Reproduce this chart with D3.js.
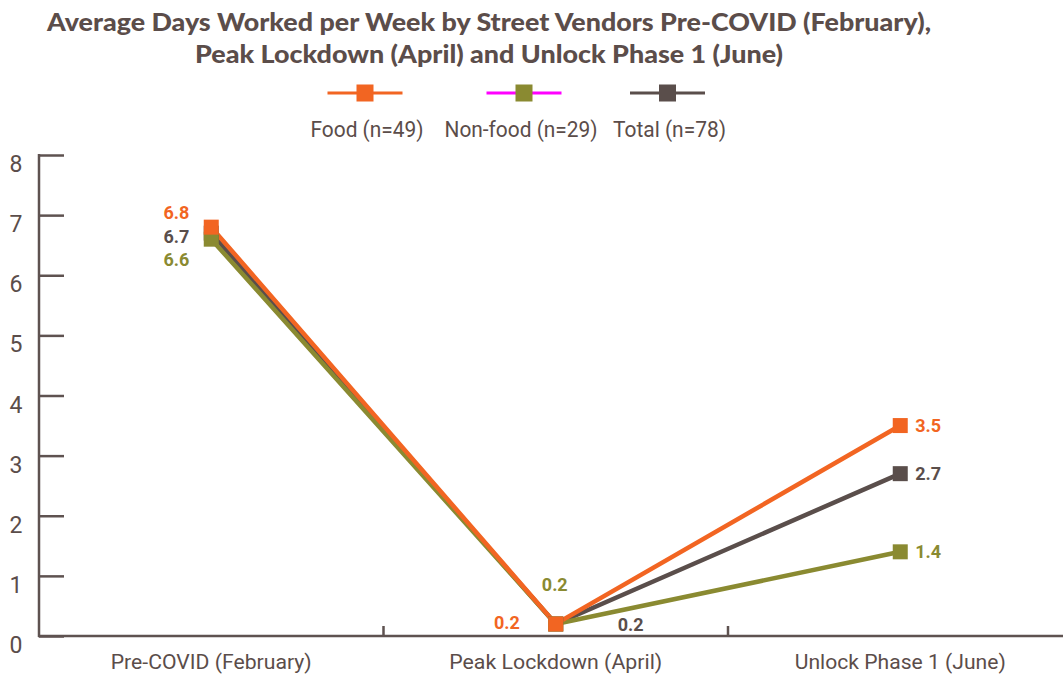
<!DOCTYPE html>
<html><head><meta charset="utf-8">
<script src="https://cdn.jsdelivr.net/npm/d3@7"></script>
<style>
html,body{margin:0;padding:0;background:#fff;}
svg{display:block;}
</style></head>
<body>
<svg id="chart" width="1063" height="675"></svg>
<script>
const categories = ["Pre-COVID (February)", "Peak Lockdown (April)", "Unlock Phase 1 (June)"];
const seriesNames = ["Food (n=49)", "Non-food (n=29)", "Total (n=78)"];
const foodValues = [6.8, 0.2, 3.5];
const nonFoodValues = [6.6, 0.2, 1.4];
const totalValues = [6.7, 0.2, 2.7];
const yTicks = [0, 1, 2, 3, 4, 5, 6, 7, 8];
const titleLines = ["Average Days Worked per Week by Street Vendors Pre-COVID (February),",
                    "Peak Lockdown (April) and Unlock Phase 1 (June)"];

const TEXT = "#5b4d4a";
const AXIS = "#5e5250";
const series = [
  {name: seriesNames[0], values: foodValues, color: "#f26522", legendLine: "#f26522", key: "food"},
  {name: seriesNames[1], values: nonFoodValues, color: "#8a8a31", legendLine: "#ff00ff", key: "nonfood"},
  {name: seriesNames[2], values: totalValues, color: "#5a4e4b", legendLine: "#5a4e4b", key: "total"}
];

const svg = d3.select("#chart");
const x = d3.scalePoint().domain(categories).range([39, 1072.5]).padding(0.5);
const xb = d3.scaleBand().domain(categories).range([39, 1072.5]);
const y = d3.scaleLinear().domain([0, 8]).range([636, 155]);

// Title
svg.append("g").selectAll("text").data(titleLines).join("text")
  .attr("x", 489).attr("y", (d, i) => i === 0 ? 31 : 63)
  .attr("text-anchor", "middle")
  .attr("font-family", "Lato, sans-serif").attr("font-weight", 900)
  .attr("font-size", 24).attr("fill", TEXT)
  .attr("textLength", (d, i) => i === 0 ? 884 : 588)
  .attr("lengthAdjust", "spacingAndGlyphs")
  .text(d => d);

// Legend
const legendCenters = [365, 524, 667.5];
const legendTextX = [367, 521, 669.5];
const legendTextW = [113, 153, 113];
const lg = svg.append("g");
series.forEach((s, i) => {
  lg.append("line").attr("x1", legendCenters[i] - 37.5).attr("x2", legendCenters[i] + 37.5)
    .attr("y1", 93).attr("y2", 93).attr("stroke", s.legendLine).attr("stroke-width", 3);
  lg.append("rect").attr("x", legendCenters[i] - 8.5).attr("y", 84.5).attr("width", 17).attr("height", 17)
    .attr("fill", s.color);
  lg.append("text").attr("x", legendTextX[i]).attr("y", 137).attr("text-anchor", "middle")
    .attr("font-family", "Roboto, sans-serif").attr("font-size", 22).attr("fill", TEXT)
    .attr("textLength", legendTextW[i]).attr("lengthAdjust", "spacingAndGlyphs")
    .text(s.name);
});

// Y axis
const yAxis = d3.axisRight(y).tickValues(yTicks).tickSize(25).tickFormat("");
const yg = svg.append("g").attr("transform", "translate(39,0)").call(yAxis);
yg.select(".domain").remove();
yg.selectAll(".tick line").attr("stroke", AXIS).attr("stroke-width", 2.5);
svg.append("line").attr("x1", 39).attr("x2", 39).attr("y1", y(8) - 1).attr("y2", y(0) + 1)
  .attr("stroke", AXIS).attr("stroke-width", 2.5);
svg.append("g").selectAll("text").data(yTicks).join("text")
  .attr("x", 16).attr("y", d => y(d) + 17).attr("text-anchor", "middle")
  .attr("font-family", "Roboto, sans-serif").attr("font-size", 23).attr("fill", TEXT)
  .text(d => d);

// X axis
const xg = svg.append("g").attr("transform", "translate(0,636)")
  .call(d3.axisBottom(xb).tickSize(0).tickFormat(""));
xg.select(".domain").remove();
svg.append("line").attr("x1", 38).attr("x2", 1063).attr("y1", 636).attr("y2", 636)
  .attr("stroke", AXIS).attr("stroke-width", 2.5);
svg.append("g").selectAll("line").data(categories.slice(1)).join("line")
  .attr("x1", d => xb(d)).attr("x2", d => xb(d)).attr("y1", 626).attr("y2", 636)
  .attr("stroke", AXIS).attr("stroke-width", 2.5);
const catW = [201, 213, 211];
svg.append("g").selectAll("text").data(categories).join("text")
  .attr("x", d => x(d)).attr("y", 669).attr("text-anchor", "middle")
  .attr("font-family", "Roboto, sans-serif").attr("font-size", 21).attr("fill", TEXT)
  .attr("textLength", (d, i) => catW[i]).attr("lengthAdjust", "spacingAndGlyphs")
  .text(d => d);

// Lines
const line = d3.line().x((d, i) => x(categories[i])).y(d => y(d));
const drawOrderLines = [2, 1, 0];
drawOrderLines.forEach(si => {
  const s = series[si];
  svg.append("path").datum(s.values).attr("d", line)
    .attr("fill", "none").attr("stroke", s.color).attr("stroke-width", 4.5)
    .attr("stroke-linejoin", "miter");
});
const drawOrderMarks = [2, 1, 0];
drawOrderMarks.forEach(si => {
  const s = series[si];
  svg.append("g").selectAll("rect").data(s.values).join("rect")
    .attr("x", (d, i) => x(categories[i]) - 7.5).attr("y", d => y(d) - 7.5)
    .attr("width", 15).attr("height", 15).attr("fill", s.color);
});

// Value labels: placement [anchor, dx, dy(center)] per series per point
const placement = {
  food:    [["end", -22, -15], ["end", -36, -1], ["start", 15, 0]],
  nonfood: [["end", -22, 20], ["middle", -1, -39], ["start", 15, 0]],
  total:   [["end", -22, 3], ["start", 62, 1], ["start", 15, 0]]
};
series.forEach(s => {
  svg.append("g").selectAll("text").data(s.values).join("text")
    .attr("x", (d, i) => x(categories[i]) + placement[s.key][i][1])
    .attr("y", (d, i) => y(d) + placement[s.key][i][2] + 6.5)
    .attr("text-anchor", (d, i) => placement[s.key][i][0])
    .attr("font-family", "Roboto, sans-serif").attr("font-weight", 700)
    .attr("font-size", 18).attr("fill", s.color)
    .text(d => d.toFixed(1));
});
</script>
</body></html>
